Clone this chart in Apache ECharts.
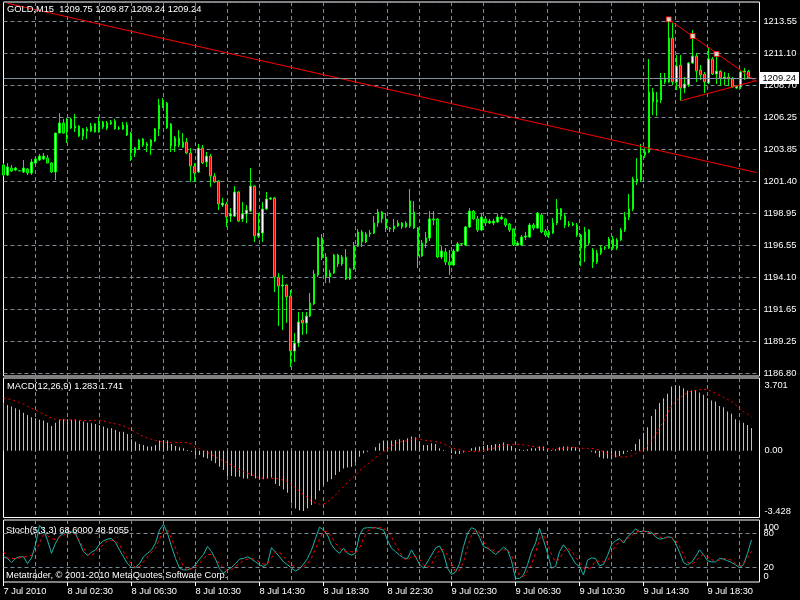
<!DOCTYPE html>
<html><head><meta charset="utf-8">
<script src="https://cdn.jsdelivr.net/npm/echarts/dist/echarts.min.js"></script>
<style>html,body{margin:0;padding:0;background:#000}#c{width:800px;height:600px}</style>
</head><body><div id="c"></div><script>
// ---- data (GOLD M15, 7 Jul 22:30 .. 9 Jul 21:15) ----
const openP = [1202.63,1201.87,1202.40,1202.25,1202.20,1202.10,1202.33,1202.02,1202.78,1203.01,1203.09,1203.16,1202.78,1202.10,1205.06,1205.82,1205.14,1206.13,1205.44,1205.59,1204.83,1205.37,1205.21,1205.75,1205.14,1205.90,1205.44,1205.75,1205.98,1205.40,1205.37,1205.67,1205.06,1203.54,1203.85,1204.61,1204.11,1204.07,1204.45,1205.37,1207.04,1207.34,1205.75,1204.07,1204.68,1203.99,1204.38,1203.54,1202.55,1202.10,1203.92,1202.86,1203.31,1201.79,1201.41,1199.59,1199.67,1198.75,1198.75,1200.58,1198.53,1198.91,1199.13,1201.03,1197.23,1197.46,1199.29,1200.05,1200.12,1194.12,1193.43,1193.51,1192.67,1188.49,1189.10,1190.85,1190.62,1191.15,1192.07,1194.27,1197.08,1195.64,1194.12,1194.42,1195.79,1195.11,1195.64,1193.97,1194.73,1196.47,1197.54,1196.78,1197.39,1197.46,1198.22,1199.06,1198.53,1197.84,1197.77,1197.99,1198.22,1197.92,1197.99,1199.06,1197.84,1195.71,1196.70,1197.08,1198.53,1198.53,1195.64,1196.02,1195.26,1195.03,1196.09,1196.63,1196.55,1197.92,1199.13,1198.53,1197.69,1198.53,1198.22,1198.22,1198.30,1198.53,1198.53,1198.15,1197.77,1196.55,1196.55,1197.16,1197.16,1198.07,1197.84,1198.83,1197.61,1197.31,1197.46,1198.22,1199.29,1198.75,1198.07,1198.15,1198.07,1197.31,1196.32,1196.70,1196.17,1195.26,1195.94,1196.32,1196.32,1197.01,1196.32,1196.93,1197.69,1198.68,1199.29,1201.34,1201.49,1203.39,1203.62,1208.18,1207.42,1207.57,1209.17,1208.94,1212.28,1208.94,1210.23,1208.48,1208.71,1210.38,1210.91,1209.85,1209.55,1208.86,1210.69,1209.55,1209.77,1209.24,1209.32,1209.17,1208.48,1208.56,1209.70,1209.75];
const highP = [1202.78,1202.78,1202.63,1202.48,1202.25,1203.01,1202.40,1203.09,1203.24,1203.47,1203.54,1203.39,1202.86,1205.06,1206.58,1206.13,1206.20,1206.20,1206.51,1205.67,1205.44,1205.52,1205.82,1205.82,1206.28,1205.98,1205.98,1206.05,1206.13,1205.59,1205.90,1205.90,1205.13,1204.00,1204.60,1204.68,1204.38,1204.60,1205.44,1207.65,1207.72,1207.42,1205.82,1204.83,1205.29,1205.06,1204.68,1203.92,1202.78,1204.23,1204.15,1203.62,1203.47,1202.02,1201.49,1200.12,1199.82,1199.36,1201.03,1200.65,1199.82,1199.59,1202.40,1201.11,1198.98,1199.82,1200.58,1200.20,1200.20,1194.42,1194.27,1193.58,1193.13,1189.86,1191.46,1191.46,1191.46,1192.90,1194.65,1197.16,1197.39,1195.94,1194.65,1195.87,1195.87,1195.79,1196.25,1194.81,1196.78,1197.77,1197.69,1197.54,1197.69,1198.75,1199.29,1199.13,1198.98,1197.92,1198.53,1198.45,1198.30,1198.37,1200.81,1199.89,1197.92,1196.93,1197.54,1199.13,1199.13,1198.60,1196.47,1196.32,1196.17,1196.25,1196.78,1196.70,1197.99,1199.36,1199.21,1198.75,1198.91,1198.75,1198.53,1198.53,1198.91,1198.83,1198.60,1198.22,1197.84,1196.85,1197.31,1197.54,1198.22,1198.22,1199.06,1198.98,1197.77,1197.69,1198.60,1200.05,1199.36,1198.98,1198.37,1198.30,1198.22,1197.39,1197.92,1197.77,1196.32,1196.17,1196.55,1196.47,1197.16,1197.23,1197.08,1197.84,1199.06,1200.43,1201.72,1203.16,1204.23,1203.92,1210.69,1208.48,1208.18,1209.62,1209.62,1213.70,1213.42,1210.99,1210.99,1209.32,1210.46,1212.89,1211.14,1210.23,1209.70,1211.52,1210.84,1211.07,1209.85,1209.70,1209.62,1209.32,1208.71,1209.85,1210.00,1209.87];
const lowP = [1201.79,1201.79,1202.10,1202.17,1202.15,1202.02,1201.87,1201.87,1202.71,1202.94,1203.01,1202.78,1202.02,1201.49,1205.06,1205.02,1204.30,1205.37,1205.14,1204.76,1204.53,1204.61,1205.14,1205.10,1205.10,1205.37,1205.29,1205.67,1205.33,1205.29,1205.29,1204.83,1202.94,1203.24,1203.77,1204.00,1203.62,1203.39,1204.38,1204.83,1206.96,1205.37,1203.62,1203.62,1203.99,1203.92,1203.47,1201.34,1201.34,1202.02,1202.71,1202.48,1200.96,1201.26,1199.21,1199.44,1197.92,1198.30,1198.68,1198.30,1198.30,1198.22,1199.06,1196.78,1197.08,1196.78,1199.21,1199.97,1192.98,1190.39,1190.09,1190.62,1187.28,1187.66,1188.80,1189.71,1189.78,1191.08,1191.99,1194.12,1195.41,1193.66,1193.66,1194.35,1194.88,1194.96,1193.89,1193.89,1194.65,1196.40,1196.40,1196.70,1197.16,1197.39,1197.92,1198.22,1197.54,1197.54,1197.54,1197.92,1197.77,1197.84,1197.84,1197.77,1194.80,1195.64,1196.32,1196.85,1198.07,1195.56,1195.49,1195.03,1194.27,1194.96,1196.02,1196.47,1196.47,1197.84,1198.45,1197.54,1197.61,1197.99,1198.15,1198.07,1198.22,1198.45,1197.92,1197.54,1196.47,1196.47,1196.47,1196.93,1197.08,1197.69,1197.77,1197.46,1197.16,1197.08,1197.39,1198.07,1198.45,1197.84,1197.92,1197.99,1197.16,1194.95,1195.26,1196.55,1194.80,1195.11,1195.79,1196.17,1196.25,1196.17,1196.17,1196.85,1197.54,1198.45,1199.13,1201.11,1201.34,1203.16,1203.54,1206.43,1206.35,1207.34,1208.79,1208.86,1208.71,1208.33,1207.52,1208.10,1208.56,1210.31,1208.94,1209.09,1208.10,1208.79,1209.47,1208.79,1208.63,1208.71,1208.63,1208.48,1208.41,1208.41,1209.09,1209.24];
const closeP = [1201.87,1202.48,1202.17,1202.40,1202.20,1202.40,1202.02,1202.86,1203.09,1203.31,1203.31,1202.78,1202.10,1205.06,1205.82,1205.06,1206.13,1205.44,1205.59,1204.83,1205.37,1205.21,1205.59,1205.14,1205.90,1205.52,1205.82,1205.90,1205.37,1205.44,1205.67,1204.91,1203.54,1203.92,1204.53,1204.15,1204.23,1204.53,1205.37,1207.19,1207.34,1205.44,1204.07,1204.68,1204.15,1204.38,1203.54,1202.55,1202.02,1203.92,1202.78,1203.31,1201.79,1201.34,1199.67,1199.74,1198.68,1198.91,1200.58,1198.37,1198.91,1199.21,1201.03,1197.23,1197.46,1199.29,1200.05,1200.12,1194.12,1193.43,1193.51,1192.60,1188.49,1189.10,1190.70,1190.62,1191.15,1192.14,1194.35,1197.08,1195.56,1194.12,1194.42,1195.79,1195.11,1195.64,1193.97,1194.73,1196.47,1197.54,1196.78,1197.39,1197.46,1198.22,1199.06,1198.53,1197.84,1197.77,1197.99,1198.22,1197.92,1198.22,1199.89,1197.84,1195.71,1196.70,1197.08,1198.53,1198.45,1195.64,1196.09,1195.26,1195.03,1196.09,1196.63,1196.66,1197.92,1199.13,1198.53,1197.69,1198.68,1198.22,1198.37,1198.37,1198.68,1198.68,1198.07,1197.69,1196.55,1196.70,1197.16,1197.23,1198.07,1197.84,1198.98,1197.54,1197.31,1197.54,1198.22,1199.29,1198.75,1198.07,1198.15,1198.07,1197.31,1196.32,1197.54,1197.69,1195.26,1195.94,1196.32,1196.36,1197.01,1196.32,1196.93,1197.69,1198.68,1199.29,1201.57,1201.57,1203.39,1203.62,1208.18,1207.42,1207.57,1209.09,1208.94,1212.28,1208.94,1210.15,1208.48,1208.79,1210.38,1210.91,1209.77,1209.47,1208.94,1210.69,1209.55,1209.77,1209.24,1209.32,1209.17,1208.56,1208.63,1209.70,1209.77,1209.24];

const macdHist = [2.73,2.60,2.51,2.41,2.32,2.16,2.03,1.90,1.84,1.75,1.71,1.59,1.40,1.59,1.75,1.78,1.78,1.75,1.75,1.71,1.65,1.59,1.56,1.52,1.46,1.37,1.27,1.27,1.18,1.08,1.08,0.95,0.65,0.51,0.38,0.32,0.23,0.23,0.32,0.57,0.61,0.57,0.38,0.27,0.19,0.13,0.04,-0.06,-0.25,-0.25,-0.38,-0.44,-0.57,-0.72,-0.91,-1.10,-1.44,-1.44,-1.48,-1.48,-1.58,-1.58,-1.44,-1.58,-1.63,-1.63,-1.58,-1.52,-1.90,-2.01,-2.20,-2.39,-3.00,-3.28,-3.38,-3.428,-3.28,-3.09,-2.77,-2.28,-1.95,-1.77,-1.63,-1.39,-1.20,-1.01,-0.95,-0.91,-0.68,-0.34,-0.15,-0.06,0.0,0.19,0.42,0.57,0.57,0.57,0.61,0.65,0.61,0.70,0.80,0.76,0.51,0.32,0.32,0.42,0.38,0.13,0.04,0.0,-0.15,-0.19,-0.19,-0.11,0.0,0.13,0.19,0.23,0.27,0.32,0.32,0.38,0.38,0.46,0.38,0.27,0.13,0.08,0.04,0.08,0.13,0.13,0.23,0.23,0.08,0.04,0.08,0.19,0.23,0.23,0.19,0.19,0.08,0.0,0.0,-0.06,-0.15,-0.38,-0.44,-0.44,-0.49,-0.38,-0.30,-0.19,-0.06,0.04,0.38,0.65,1.02,1.33,1.97,2.35,2.70,2.98,3.23,3.64,3.701,3.68,3.55,3.42,3.42,3.45,3.30,3.17,2.98,2.85,2.79,2.54,2.47,2.22,2.09,1.78,1.59,1.59,1.46,1.283];
const macdSignal = [2.98,2.95,2.90,2.82,2.73,2.64,2.51,2.41,2.31,2.19,2.07,1.96,1.86,1.78,1.76,1.75,1.75,1.75,1.75,1.73,1.72,1.71,1.71,1.71,1.71,1.69,1.61,1.57,1.52,1.47,1.41,1.30,1.18,1.04,0.92,0.81,0.72,0.65,0.57,0.52,0.48,0.46,0.46,0.46,0.46,0.46,0.46,0.37,0.20,0.12,0.02,-0.11,-0.22,-0.34,-0.48,-0.59,-0.68,-0.82,-0.96,-1.07,-1.18,-1.28,-1.37,-1.48,-1.53,-1.56,-1.58,-1.58,-1.58,-1.62,-1.67,-1.78,-1.94,-2.12,-2.30,-2.50,-2.66,-2.88,-2.98,-3.04,-3.04,-2.92,-2.70,-2.52,-2.26,-2.04,-1.80,-1.58,-1.40,-1.15,-0.96,-0.79,-0.60,-0.40,-0.22,-0.05,0.10,0.26,0.40,0.50,0.53,0.57,0.63,0.68,0.66,0.61,0.57,0.54,0.52,0.47,0.39,0.28,0.17,0.10,0.05,-0.02,-0.04,-0.06,-0.06,-0.05,0.01,0.08,0.11,0.16,0.25,0.30,0.32,0.36,0.38,0.35,0.32,0.29,0.25,0.22,0.18,0.14,0.12,0.09,0.09,0.11,0.13,0.15,0.18,0.17,0.15,0.13,0.13,0.13,0.10,0.03,-0.06,-0.15,-0.22,-0.30,-0.35,-0.38,-0.34,-0.30,-0.16,-0.04,0.04,0.29,0.55,0.89,1.30,1.66,2.13,2.52,2.79,2.99,3.15,3.29,3.38,3.43,3.46,3.49,3.46,3.37,3.26,3.14,3.03,2.92,2.79,2.63,2.40,2.22,2.08,1.90];

const stochMain = [39,36,29,36,39,39,27,37,60,94,86,68,45,63,75,80,83,83,80,64,48,41,47,51,61,67,70,71,64,51,39,27,20,20,27,39,45,51,63,86,96,80,57,36,19,16,16,19,25,35,43,57,48,35,18,10,16,20,27,35,36,39,35,30,25,22,27,55,47,39,30,25,19,14,18,26,36,51,71,91,86,77,60,51,45,54,45,42,45,77,89,90,90,90,88,86,68,54,48,42,37,36,51,39,26,19,30,42,54,58,45,19,8,12,27,57,80,90,87,73,57,54,49,43,49,56,51,32,1,1,7,25,48,63,89,68,45,19,22,48,60,51,39,27,22,7,33,37,36,23,26,41,60,67,71,63,74,80,88,83,84,83,82,74,70,71,74,73,63,47,29,25,29,39,51,43,32,30,30,36,35,32,29,25,20,25,45,68.6];
const stochSignal = [48,37,36,36,37,39,39,42,48,63,78,76,71,69,73,77,81,82,78,67,55,43,41,48,54,61,67,68,67,60,48,36,26,20,22,30,39,47,54,70,84,86,71,54,36,22,16,18,22,27,36,43,43,36,27,19,14,16,22,27,32,35,36,34,30,26,27,37,48,47,39,32,25,20,19,22,27,37,53,70,83,84,74,63,54,49,48,48,46,54,71,84,89,90,90,89,84,74,61,48,36,33,39,39,35,25,20,26,39,51,52,42,27,13,15,30,56,77,86,82,65,55,52,48,48,51,51,42,19,7,4,14,25,45,71,76,61,43,30,35,48,54,49,39,29,19,18,20,32,31,30,32,44,60,64,67,71,76,82,84,84,82,80,78,74,71,73,73,68,57,42,30,26,30,39,43,39,34,32,33,36,35,33,27,23,27,37,48.5055];
const stochLevels = [20, 80];
const stochBounds = ['0', '100'];

const priceTickLabels = ['1186.80','1189.25','1191.65','1194.10','1196.55','1198.95','1201.40','1203.85','1206.25','1208.70','1211.10','1213.55'];
const xTickLabels = ['7 Jul 2010','8 Jul 02:30','8 Jul 06:30','8 Jul 10:30','8 Jul 14:30','8 Jul 18:30','8 Jul 22:30','9 Jul 02:30','9 Jul 06:30','9 Jul 10:30','9 Jul 14:30','9 Jul 18:30'];
const macdLabelValues = [-3.428, 0, 3.701];
const macdLabelTexts = ['-3.428', '0.00', '3.701'];

const trendLine = [[1, 1214.92], [189, 1202.06]];
const triangleUpper = [[167, 1213.70], [189, 1208.98]];
const triangleLower = [[170, 1207.52], [189, 1209.04]];
const fractalPoints = [[167, 1213.70], [173, 1212.43], [179, 1211.07]];

// ---- chart ----
const SLOTS = 190;
const cats = Array.from({length: SLOTS}, (_, i) => String(i));
const candles = openP.map((o, i) => [o, closeP[i], lowP[i], highP[i]]);
const FONT = 'Liberation Sans';
const GRIDC = '#7d8a97';
const DASH = [4, 3];
const priceMin = 1186.80, priceStep = 26.75 / 11;
const txt = {color: '#fff', fontSize: 9.3, fontFamily: FONT, fontWeight: 'normal'};

const L = 3.5, W = 756;
const frame = {show: true, borderColor: '#fff', borderWidth: 1, backgroundColor: 'transparent'};
const grids = [
  {left: L, width: W, top: 2, height: 371.3},
  {left: L, width: W, top: 385.5, height: 125.5},
  {left: L, width: W, top: 522, height: 57},
  Object.assign({left: L, width: W, top: 2, height: 374}, frame),
  Object.assign({left: L, width: W, top: 378, height: 139.5}, frame),
  Object.assign({left: L, width: W, top: 520, height: 62}, frame)
];
const vSplit = {show: true, interval: (i) => i > 0 && i % 8 === 0, lineStyle: {color: GRIDC, type: DASH, width: 1}};
const xAxes = [0, 1, 2].map(g => ({type: 'category', gridIndex: g, data: cats, boundaryGap: false, show: false}));
xAxes.push({type: 'category', gridIndex: 3, data: cats, boundaryGap: false, axisLine: {show: false}, axisTick: {show: false}, axisLabel: {show: false}, splitLine: vSplit});
xAxes.push({type: 'category', gridIndex: 4, data: cats, boundaryGap: false, axisLine: {show: false}, axisTick: {show: false}, axisLabel: {show: false}, splitLine: vSplit});
xAxes.push({type: 'category', gridIndex: 5, data: cats, boundaryGap: false, axisLine: {show: false},
  axisTick: {show: true, interval: (i) => i % 16 === 0, length: 4, lineStyle: {color: '#fff'}},
  axisLabel: Object.assign({show: true, interval: (i) => i % 16 === 0, align: 'left', margin: 5,
    formatter: (v, idx) => xTickLabels[Math.round(Number(v) / 16)] || ''}, txt),
  splitLine: vSplit});

const yAxes = [
  {type: 'value', gridIndex: 0, position: 'right', min: priceMin, max: 1215.02, interval: priceStep, scale: true,
   axisLine: {show: false}, axisTick: {show: false},
   axisLabel: Object.assign({margin: 7, showMinLabel: true, showMaxLabel: false,
     formatter: (v) => { const k = Math.round((v - priceMin) / priceStep); return Math.abs(v - (priceMin + k * priceStep)) < 0.01 ? (priceTickLabels[k] || '') : ''; }}, txt),
   splitLine: {show: true, lineStyle: {color: GRIDC, type: DASH, width: 1}}},
  {type: 'value', gridIndex: 1, position: 'right', min: -3.428, max: 3.701, interval: 3.428,
   axisLine: {show: false}, axisTick: {show: false}, splitLine: {show: false},
   axisLabel: Object.assign({margin: 5, showMinLabel: true, showMaxLabel: true,
     formatter: (v) => { const k = macdLabelValues.findIndex(m => Math.abs(m - v) < 1e-6); return k < 0 ? '' : macdLabelTexts[k]; }}, txt)},
  {type: 'value', gridIndex: 2, position: 'right', min: 0, max: 100, interval: 20,
   axisLine: {show: false}, axisTick: {show: false}, splitLine: {show: false},
   axisLabel: Object.assign({margin: 4, showMinLabel: false, showMaxLabel: false,
     formatter: (v) => { const r = Math.round(v); return stochLevels.indexOf(r) >= 0 ? String(r) : ''; }}, txt)},
  {type: 'value', gridIndex: 3, show: false, min: 0, max: 1},
  {type: 'value', gridIndex: 4, show: false, min: 0, max: 1},
  // stochastic window bounds (0 / 100), labels pulled inside the window like MT4 does
  {type: 'value', gridIndex: 5, position: 'right', min: 0, max: 1, interval: 1,
   axisLine: {show: false}, axisTick: {show: false}, splitLine: {show: false},
   axisLabel: Object.assign({margin: 4, showMinLabel: true, showMaxLabel: true,
     formatter: (v) => v > 0.5 ? '{t|' + stochBounds[1] + '}' : '{b|' + stochBounds[0] + '}',
     rich: {t: Object.assign({padding: [15, 0, 0, 0]}, txt), b: Object.assign({padding: [0, 0, 12, 0]}, txt)}}, txt)}
];

const redLine = (data) => ({type: 'line', xAxisIndex: 0, yAxisIndex: 0, data: data, symbol: 'none', silent: true,
  lineStyle: {color: '#ff0000', width: 1}, z: 4});

const last = closeP[closeP.length - 1];
const option = {
  backgroundColor: '#000',
  animation: false,
  title: [
    {text: 'GOLD,M15  ' + [openP, highP, lowP, closeP].map(a => a[a.length - 1].toFixed(2)).join(' '), left: 7, top: 5, padding: 0, textStyle: txt},
    {text: 'MACD(12,26,9) 1.283 1.741', left: 7, top: 382, padding: 0, textStyle: txt},
    {text: 'Stoch(5,3,3) 68.6000 48.5055', left: 6, top: 525.5, padding: 0, textStyle: txt},
    {text: 'Metatrader, \u00a9 2001-2010 MetaQuotes Software Corp.', left: 6, top: 570.5, padding: 0, textStyle: txt}
  ],
  grid: grids,
  xAxis: xAxes,
  yAxis: yAxes,
  series: [
    {type: 'candlestick', xAxisIndex: 0, yAxisIndex: 0, data: candles, barWidth: 2, silent: true,
     itemStyle: {color: '#ffffff', color0: '#ff0000', borderColor: '#00ff00', borderColor0: '#00ff00', borderColorDoji: '#00ff00', borderWidth: 1},
     markLine: {symbol: ['none', 'none'], silent: true, animation: false,
       data: [{yAxis: last}],
       lineStyle: {color: '#8391a0', type: 'solid', width: 1},
       label: {position: 'end', distance: 3, formatter: (p) => Number(p.value).toFixed(2), color: '#000', backgroundColor: '#fff',
         fontSize: 9.3, fontFamily: FONT, padding: [2, 3, 1, 3]}}},
    redLine(trendLine),
    redLine(triangleUpper),
    redLine(triangleLower),
    {type: 'scatter', xAxisIndex: 0, yAxisIndex: 0, data: fractalPoints, symbol: 'rect', symbolSize: 5, silent: true, z: 5,
     itemStyle: {color: '#fff', borderColor: '#ff0000', borderWidth: 1}},
    {type: 'bar', xAxisIndex: 1, yAxisIndex: 1, data: macdHist, barWidth: 1, silent: true, itemStyle: {color: '#c0c0c0'}},
    {type: 'line', xAxisIndex: 1, yAxisIndex: 1, data: macdSignal, symbol: 'none', silent: true,
     lineStyle: {color: '#ff0000', width: 1, type: [2, 3]}},
    {type: 'line', xAxisIndex: 2, yAxisIndex: 2, data: stochMain, symbol: 'none', silent: true,
     lineStyle: {color: '#20b2aa', width: 1},
     markLine: {symbol: ['none', 'none'], silent: true, animation: false, label: {show: false},
       data: stochLevels.map(v => ({yAxis: v})), lineStyle: {color: GRIDC, type: DASH, width: 1}}},
    {type: 'line', xAxisIndex: 2, yAxisIndex: 2, data: stochSignal, symbol: 'none', silent: true,
     lineStyle: {color: '#ff0000', width: 1, type: [3, 3]}}
  ]
};
const chart = echarts.init(document.getElementById('c'), null, {renderer: 'canvas'});
chart.setOption(option);
</script></body></html>
